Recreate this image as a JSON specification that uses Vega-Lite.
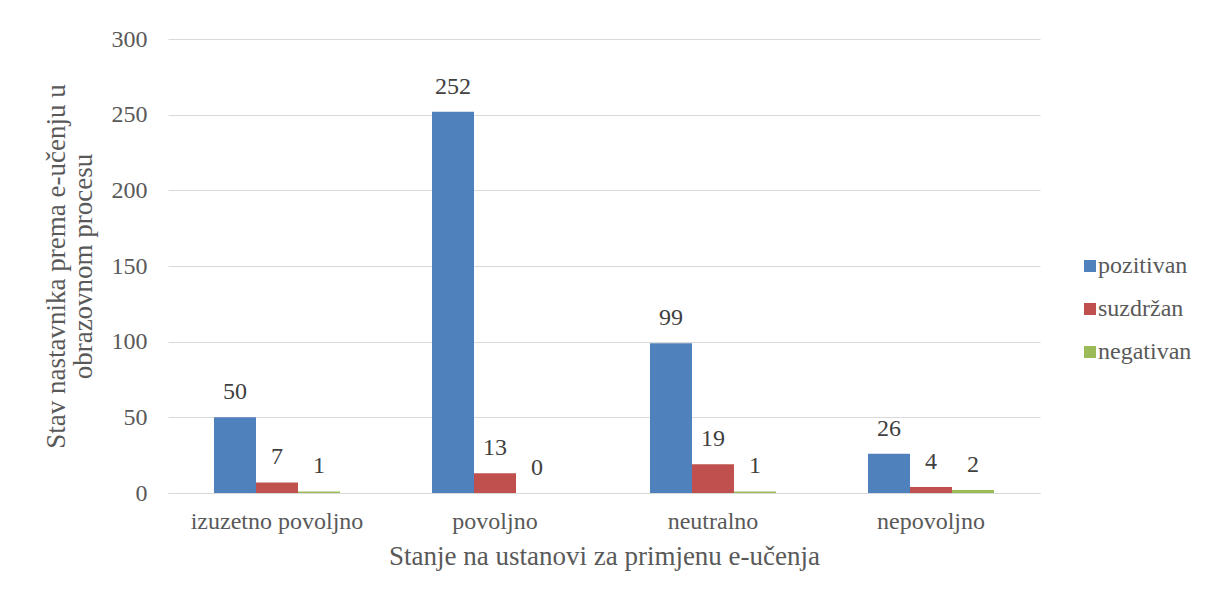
{
  "$schema": "https://vega.github.io/schema/vega-lite/v6.json",
  "autosize": {"type": "none"},
  "padding": {"left": 168, "top": 39, "right": 168, "bottom": 106},
  "width": 872,
  "height": 454,
  "background": "white",
  "config": {
    "font": "Liberation Serif",
    "view": {"stroke": null}
  },
  "data": {
    "values": [
      {"stanje": "izuzetno povoljno", "stav": "pozitivan", "n": 50},
      {"stanje": "izuzetno povoljno", "stav": "suzdržan", "n": 7},
      {"stanje": "izuzetno povoljno", "stav": "negativan", "n": 1},
      {"stanje": "povoljno", "stav": "pozitivan", "n": 252},
      {"stanje": "povoljno", "stav": "suzdržan", "n": 13},
      {"stanje": "povoljno", "stav": "negativan", "n": 0},
      {"stanje": "neutralno", "stav": "pozitivan", "n": 99},
      {"stanje": "neutralno", "stav": "suzdržan", "n": 19},
      {"stanje": "neutralno", "stav": "negativan", "n": 1},
      {"stanje": "nepovoljno", "stav": "pozitivan", "n": 26},
      {"stanje": "nepovoljno", "stav": "suzdržan", "n": 4},
      {"stanje": "nepovoljno", "stav": "negativan", "n": 2}
    ]
  },
  "encoding": {
    "x": {
      "field": "stanje", "type": "nominal",
      "sort": ["izuzetno povoljno", "povoljno", "neutralno", "nepovoljno"],
      "scale": {"paddingInner": 0.422, "paddingOuter": 0.211},
      "axis": {
        "title": "Stanje na ustanovi za primjenu e-učenja",
        "labelAngle": 0, "labelFontSize": 24, "labelColor": "#595959", "labelFont": "Liberation Serif",
        "labelPadding": 16, "ticks": false,
        "domainColor": "#d9d9d9", "domainWidth": 1,
        "titleFontSize": 27, "titleFontWeight": "normal", "titleColor": "#595959", "titleFont": "Liberation Serif",
        "titlePadding": 10
      }
    },
    "xOffset": {
      "field": "stav", "type": "nominal",
      "sort": ["pozitivan", "suzdržan", "negativan"]
    },
    "y": {
      "field": "n", "type": "quantitative",
      "scale": {"domain": [0, 300]},
      "axis": {
        "title": ["Stav nastavnika prema e-učenju u", "obrazovnom procesu"],
        "values": [0, 50, 100, 150, 200, 250, 300],
        "domain": false, "ticks": false,
        "labelFontSize": 24, "labelColor": "#595959", "labelPadding": 21, "labelFont": "Liberation Serif",
        "gridColor": "#d9d9d9", "gridWidth": 1,
        "titleFontSize": 27, "titleFontWeight": "normal", "titleColor": "#595959", "titleFont": "Liberation Serif",
        "titlePadding": 14, "titleLineHeight": 27
      }
    }
  },
  "layer": [
    {
      "mark": {"type": "bar"},
      "encoding": {
        "color": {
          "field": "stav", "type": "nominal",
          "sort": ["pozitivan", "suzdržan", "negativan"],
          "scale": {"domain": ["pozitivan", "suzdržan", "negativan"], "range": ["#4f81bd", "#c0504d", "#9bbb59"]},
          "legend": {
            "title": null, "orient": "none", "legendX": 910, "legendY": 215,
            "symbolType": "square", "symbolSize": 144, "symbolStrokeWidth": 0,
            "labelFontSize": 24, "labelColor": "#595959", "labelOffset": -4, "labelFont": "Liberation Serif",
            "rowPadding": 19
          }
        }
      }
    },
    {
      "mark": {"type": "text", "baseline": "alphabetic", "dy": -18, "fontSize": 24, "color": "#404040", "font": "Liberation Serif"},
      "encoding": {"text": {"field": "n", "type": "quantitative"}}
    }
  ]
}
